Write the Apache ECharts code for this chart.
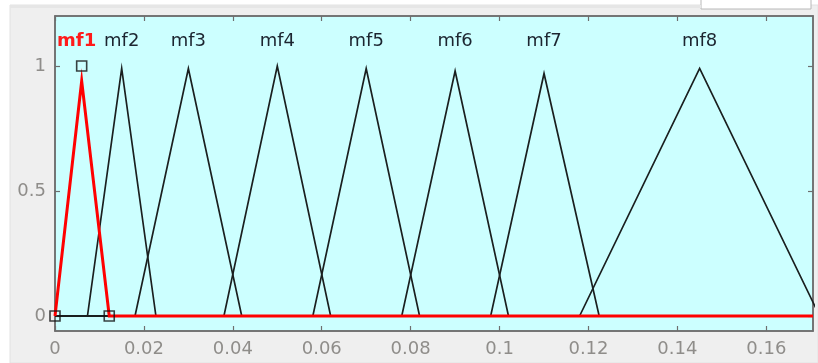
<!DOCTYPE html>
<html>
<head>
<meta charset="utf-8">
<script src="https://cdn.jsdelivr.net/npm/echarts@6/dist/echarts.min.js"></script>
<style>
html,body{margin:0;padding:0;background:#ffffff;}
#chart{width:818px;height:363px;}
</style>
</head>
<body>
<div id="chart"></div>
<script>
// Membership functions (triangular): left foot, peak, right foot, peak height
const mfNames = ['mf1', 'mf2', 'mf3', 'mf4', 'mf5', 'mf6', 'mf7', 'mf8'];
const mfLeft  = [0.0, 0.0073, 0.018, 0.038, 0.058, 0.078, 0.098, 0.118];
const mfPeak  = [0.006, 0.015, 0.030, 0.050, 0.070, 0.090, 0.110, 0.145];
const mfRight = [0.0122, 0.0227, 0.042, 0.062, 0.082, 0.102, 0.1224, 0.172];
const mfHeight = [0.94, 0.99, 0.99, 1.0, 0.99, 0.98, 0.97, 0.99];
const selectedIndex = 0;
// handle points of the selected MF
const handleX = [0.0, 0.006, 0.0122];
const handleY = [0, 1, 0];
// axes
const xMin = 0, xMax = 0.1705;
const yMin = -0.06, yMax = 1.2;
const xTicks = [0, 0.02, 0.04, 0.06, 0.08, 0.1, 0.12, 0.14, 0.16];
const xTickLabels = ['0', '0.02', '0.04', '0.06', '0.08', '0.1', '0.12', '0.14', '0.16'];
const yTicks = [0, 0.5, 1];
const yTickLabels = ['0', '0.5', '1'];
const labelY = 1.1;

const chart = echarts.init(document.getElementById('chart'), null, {renderer: 'canvas'});

const series = [];
const order = mfNames.map((_, i) => i).filter(i => i !== selectedIndex).concat([selectedIndex]);
order.forEach(i => {
  const sel = i === selectedIndex;
  const pts = [[xMin, 0], [mfLeft[i], 0], [mfPeak[i], mfHeight[i]], [mfRight[i], 0]];
  if (mfRight[i] < xMax) pts.push([xMax, 0]);
  series.push({
    type: 'line',
    name: mfNames[i],
    data: pts,
    symbol: 'none',
    clip: true,
    animation: false,
    z: sel ? 5 : 3,
    lineStyle: {color: sel ? '#ff0000' : '#1a1f1f', width: sel ? 3 : 1.7, join: 'miter'},
    markPoint: {
      symbol: 'circle',
      symbolSize: 0,
      animation: false,
      data: [{coord: [mfPeak[i], labelY], value: mfNames[i]}],
      label: {
        show: true,
        position: 'inside',
        offset: sel ? [-5, 0] : [0, 0],
        formatter: mfNames[i],
        fontFamily: 'DejaVu Sans, sans-serif',
        fontSize: 18,
        fontWeight: sel ? 'bold' : 'normal',
        color: sel ? '#ff1a1a' : '#1c2530'
      }
    }
  });
});

series.push({
  type: 'scatter',
  data: handleX.map((x, k) => [x, handleY[k]]),
  symbol: 'rect',
  symbolSize: 10,
  z: 6,
  animation: false,
  itemStyle: {color: 'rgba(0,0,0,0)', borderColor: '#111', borderWidth: 1.6}
});

const axisFont = {fontFamily: 'DejaVu Sans, sans-serif', fontSize: 18, color: '#8f8d8a'};

const option = {
  backgroundColor: 'transparent',
  animation: false,
  graphic: [
    {type: 'rect', z: -10, shape: {x: 10, y: 5, width: 808, height: 358}, style: {fill: '#efefef', stroke: '#e2e2e2', lineWidth: 1}},
    {type: 'rect', z: -9, shape: {x: 701, y: -2, width: 110, height: 11}, style: {fill: '#ffffff', stroke: '#b8b8b8', lineWidth: 1}},
    {type: 'rect', z: -8, shape: {x: 10, y: 5, width: 691, height: 3}, style: {fill: '#e6e6e6'}}
  ],
  grid: {left: 55, right: 5, top: 16, bottom: 32, show: true, backgroundColor: '#ccffff', borderColor: '#6e6e6e', borderWidth: 1.5},
  xAxis: [
    {
      type: 'value', min: xMin, max: xMax, position: 'bottom',
      axisLine: {show: true, onZero: false, lineStyle: {color: '#6e6e6e', width: 1.5}},
      axisTick: {show: true, inside: true, length: 5, customValues: xTicks, lineStyle: {color: '#6e6e6e', width: 1.2}},
      axisLabel: Object.assign({show: true, margin: 9, customValues: xTicks,
        formatter: v => { const k = xTicks.findIndex(t => Math.abs(t - v) < 1e-9); return k >= 0 ? xTickLabels[k] : ''; }}, axisFont),
      splitLine: {show: false}
    },
    {
      type: 'value', min: xMin, max: xMax, position: 'top',
      axisLine: {show: true, onZero: false, lineStyle: {color: '#6e6e6e', width: 1.5}},
      axisTick: {show: true, inside: true, length: 5, customValues: xTicks, lineStyle: {color: '#6e6e6e', width: 1.2}},
      axisLabel: {show: false},
      splitLine: {show: false}
    }
  ],
  yAxis: [
    {
      type: 'value', min: yMin, max: yMax, position: 'left',
      axisLine: {show: true, onZero: false, lineStyle: {color: '#6e6e6e', width: 1.5}},
      axisTick: {show: true, inside: true, length: 5, customValues: yTicks, lineStyle: {color: '#6e6e6e', width: 1.2}},
      axisLabel: Object.assign({show: true, margin: 9, customValues: yTicks,
        formatter: v => { const k = yTicks.findIndex(t => Math.abs(t - v) < 1e-9); return k >= 0 ? yTickLabels[k] : ''; }}, axisFont),
      splitLine: {show: false}
    },
    {
      type: 'value', min: yMin, max: yMax, position: 'right',
      axisLine: {show: true, onZero: false, lineStyle: {color: '#6e6e6e', width: 1.5}},
      axisTick: {show: true, inside: true, length: 5, customValues: yTicks, lineStyle: {color: '#6e6e6e', width: 1.2}},
      axisLabel: {show: false},
      splitLine: {show: false}
    }
  ],
  series: series
};
chart.setOption(option);
</script>
</body>
</html>
